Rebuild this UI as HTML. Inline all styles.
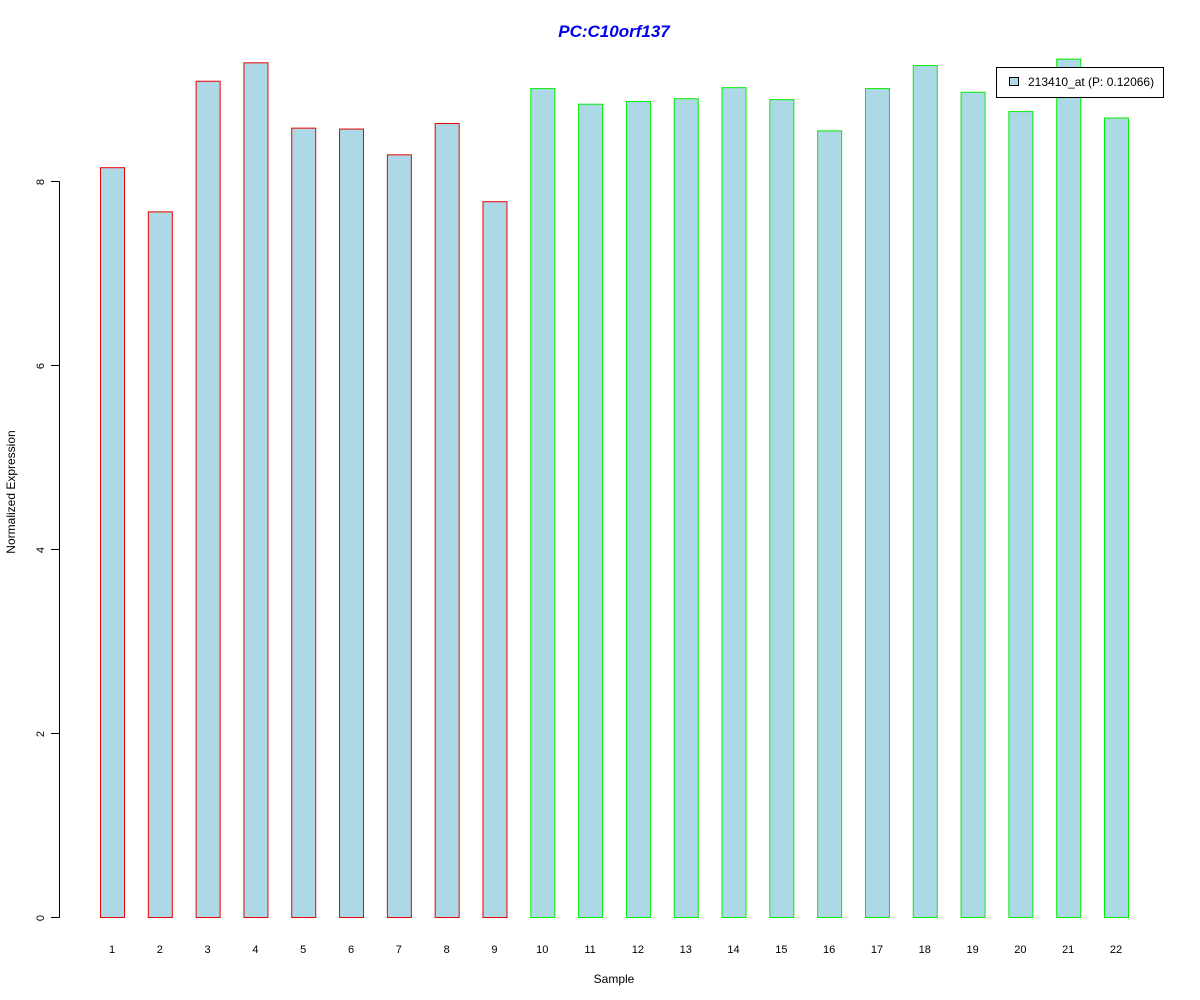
<!DOCTYPE html>
<html><head><meta charset="utf-8"><style>body{margin:0;background:#fff}svg{display:block;font-family:"Liberation Sans",Arial,sans-serif}</style></head>
<body>
<svg id="chart" width="1200" height="1000">
<text x="614" y="37" text-anchor="middle" font-size="17" font-weight="bold" font-style="italic" fill="#0000ee">PC:C10orf137</text>
<g id="bars"></g>
<g id="yaxis"></g>
<g id="xlabels"></g>
<text x="614" y="983" text-anchor="middle" font-size="12">Sample</text>
<text transform="translate(15,492) rotate(-90)" text-anchor="middle" font-size="12">Normalized Expression</text>
<g>
<rect x="996.5" y="67.5" width="167" height="30" fill="#fff" stroke="#000"/>
<rect x="1009.5" y="77.5" width="9" height="8" fill="#add8e6" stroke="#000"/>
<text x="1028" y="86" font-size="12">213410_at (P: 0.12066)</text>
</g>
</svg>
<script>
const categories=["1","2","3","4","5","6","7","8","9","10","11","12","13","14","15","16","17","18","19","20","21","22"];
const values=[8.15,7.67,9.09,9.29,8.58,8.57,8.29,8.63,7.78,9.01,8.84,8.87,8.90,9.02,8.89,8.55,9.01,9.26,8.97,8.76,9.33,8.69];
const groups=["T","T","T","T","T","T","T","T","T","N","N","N","N","N","N","N","N","N","N","N","N","N"];
const yTicks=[0,2,4,6,8];
const NS="http://www.w3.org/2000/svg";
const y=v=>917-v*92;
const x=i=>100+i*47.81;
const bars=document.getElementById('bars'),xl=document.getElementById('xlabels'),ya=document.getElementById('yaxis');
values.forEach((v,i)=>{
 const r=document.createElementNS(NS,'rect');
 
 
 r.setAttribute('x',x(i)+0.5);r.setAttribute('y',y(v)+0.5);r.setAttribute('width',24);r.setAttribute('height',917-y(v));
 r.setAttribute('fill','#add8e6');r.setAttribute('stroke',groups[i]==="T"?'#ee0000':'#00ee00');
 bars.appendChild(r);
 const t=document.createElementNS(NS,'text');
 
 
 t.setAttribute('x',x(i)+12);t.setAttribute('y',953);t.setAttribute('text-anchor','middle');t.setAttribute('font-size','11');
 t.textContent=categories[i];xl.appendChild(t);
});
const ax=document.createElementNS(NS,'line');


ax.setAttribute('x1',59.5);ax.setAttribute('x2',59.5);ax.setAttribute('y1',y(0)+0.5);ax.setAttribute('y2',y(8)+0.5);ax.setAttribute('stroke','#000');
ya.appendChild(ax);
yTicks.forEach(v=>{
 const l=document.createElementNS(NS,'line');
 
 
 l.setAttribute('x1',51);l.setAttribute('x2',59.5);l.setAttribute('y1',y(v)+0.5);l.setAttribute('y2',y(v)+0.5);l.setAttribute('stroke','#000');
 ya.appendChild(l);
 const t=document.createElementNS(NS,'text');
 
 
 t.setAttribute('transform','translate(44,'+(y(v)+1)+') rotate(-90)');t.setAttribute('text-anchor','middle');t.setAttribute('font-size','11');
 t.textContent=v;ya.appendChild(t);
});
</script>
</body></html>
